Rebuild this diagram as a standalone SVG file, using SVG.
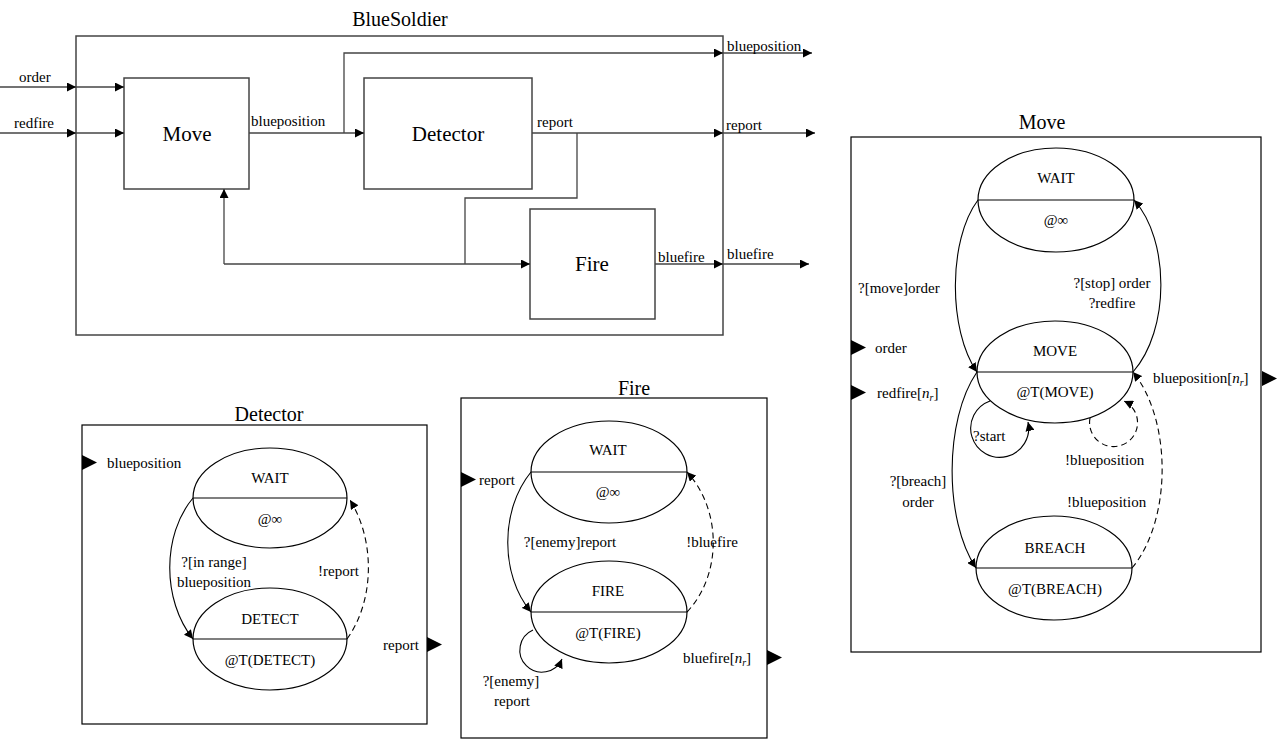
<svg xmlns="http://www.w3.org/2000/svg" width="1279" height="741" viewBox="0 0 1279 741" font-family="'Liberation Serif', 'DejaVu Serif', serif">
<style>
text{font-family:'Liberation Serif','DejaVu Serif',serif;fill:#000;}
.t{font-size:15px;}
.c{text-anchor:middle;}
.big{font-size:21px;}
.ttl{font-size:20px;text-anchor:middle;}
.blk{fill:#fff;stroke:#444;stroke-width:1.5;}
.wire{fill:none;stroke:#444;stroke-width:1.3;}
.st{fill:#fff;stroke:#000;stroke-width:1.2;}
.frame{fill:#fff;stroke:#000;stroke-width:1.2;}
.tr{fill:none;stroke:#000;stroke-width:1.1;}
.dash{stroke-dasharray:6,4;}
.port{fill:#000;}
.sub{font-size:10px;font-style:italic;}
.it{font-style:italic;}
</style>
<defs>
<marker id="a" viewBox="0 0 10 10" refX="10" refY="5" markerWidth="9" markerHeight="9" markerUnits="userSpaceOnUse" orient="auto">
<path d="M0,0 L10,5 L0,10 z" fill="#000"/>
</marker>
</defs>
<rect width="1279" height="741" fill="#fff"/>

<!-- BlueSoldier coupled block -->
<g id="bluesoldier">
<rect class="blk" x="76" y="36" width="647" height="299"/>
<text class="ttl" x="400" y="26">BlueSoldier</text>
</g>
<g id="blk-move"><rect class="blk" x="124" y="78" width="125" height="111"/><text class="big c" x="187" y="141">Move</text></g>
<g id="blk-detector"><rect class="blk" x="364" y="78" width="168" height="111"/><text class="big c" x="448" y="141">Detector</text></g>
<g id="blk-fire"><rect class="blk" x="530" y="209" width="125" height="110"/><text class="big c" x="592" y="271">Fire</text></g>

<g id="connectors-top">
<path class="wire" d="M0,87 H76" marker-end="url(#a)"/>
<path class="wire" d="M76,87 H124" marker-end="url(#a)"/>
<path class="wire" d="M0,133 H76" marker-end="url(#a)"/>
<path class="wire" d="M76,133 H124" marker-end="url(#a)"/>
<path class="wire" d="M249,133 H364" marker-end="url(#a)"/>
<path class="wire" d="M344,133 V53 H723" marker-end="url(#a)"/>
<path class="wire" d="M723,53 H812" marker-end="url(#a)"/>
<path class="wire" d="M532,133 H723" marker-end="url(#a)"/>
<path class="wire" d="M723,133 H815" marker-end="url(#a)"/>
<path class="wire" d="M577,133 V198 H465 V264"/>
<path class="wire" d="M224,264 H530" marker-end="url(#a)"/>
<path class="wire" d="M224,264 V189" marker-end="url(#a)"/>
<path class="wire" d="M655,264 H723" marker-end="url(#a)"/>
<path class="wire" d="M723,264 H809" marker-end="url(#a)"/>
<text class="t" x="19" y="82">order</text>
<text class="t" x="14" y="128">redfire</text>
<text class="t" x="251" y="126">blueposition</text>
<text class="t" x="727" y="51">blueposition</text>
<text class="t" x="537" y="127">report</text>
<text class="t" x="726" y="130">report</text>
<text class="t" x="658" y="262">bluefire</text>
<text class="t" x="727" y="259">bluefire</text>
</g>

<!-- Move atomic model -->
<g id="move-model">
<rect class="frame" x="851" y="137" width="410" height="515"/>
<text class="ttl" x="1042" y="129">Move</text>
<path class="port" d="M851,340 L866,347.5 L851,355 z"/>
<text class="t" x="875" y="353">order</text>
<path class="port" d="M851,385 L866,392.5 L851,400 z"/>
<text class="t" x="877" y="398">redfire[<tspan class="it">n</tspan><tspan class="sub" dy="3">r</tspan><tspan dy="-3">]</tspan></text>
<text class="t" x="1153" y="383">blueposition[<tspan class="it">n</tspan><tspan class="sub" dy="3">r</tspan><tspan dy="-3">]</tspan></text>
<path class="port" d="M1262,371 L1277,378.5 L1262,386 z"/>
</g>
<g id="move-wait">
<ellipse class="st" cx="1056" cy="200" rx="78" ry="52"/>
<line class="st" x1="978" y1="200" x2="1134" y2="200"/>
<text class="t c" x="1056" y="183">WAIT</text>
<text class="t c" x="1056" y="225">@∞</text>
</g>
<g id="move-move">
<ellipse class="st" cx="1055" cy="372" rx="78" ry="51"/>
<line class="st" x1="977" y1="372" x2="1133" y2="372"/>
<text class="t c" x="1055" y="356">MOVE</text>
<text class="t c" x="1055" y="397">@T(MOVE)</text>
</g>
<g id="move-breach">
<ellipse class="st" cx="1054" cy="568" rx="78" ry="52"/>
<line class="st" x1="976" y1="568" x2="1132" y2="568"/>
<text class="t c" x="1055" y="553">BREACH</text>
<text class="t c" x="1055" y="594">@T(BREACH)</text>
</g>
<g id="move-connectors">
<path class="tr" d="M978,200 C948,240 948,330 977,372" marker-end="url(#a)"/>
<path class="tr" d="M1133,372 C1170,330 1170,240 1134,200" marker-end="url(#a)"/>
<path class="tr" d="M977,372 C944,420 944,520 976,568" marker-end="url(#a)"/>
<path class="tr dash" d="M1132,568 C1172,520 1172,420 1133,372" marker-end="url(#a)"/>
<path class="tr" d="M990,401 A29,29 0 1 0 1028,422" marker-end="url(#a)"/>
<path class="tr dash" d="M1090,418 A24,24 0 1 0 1124,401" marker-end="url(#a)"/>
<text class="t" x="858" y="293">?[move]order</text>
<text class="t c" x="1112" y="288">?[stop] order</text>
<text class="t c" x="1112" y="308">?redfire</text>
<text class="t c" x="918" y="486">?[breach]</text>
<text class="t c" x="918" y="507">order</text>
<text class="t" x="973" y="441">?start</text>
<text class="t" x="1065" y="465">!blueposition</text>
<text class="t" x="1067" y="507">!blueposition</text>
</g>

<!-- Detector atomic model -->
<g id="detector-model">
<rect class="frame" x="82" y="425" width="345" height="299"/>
<text class="ttl" x="269" y="421">Detector</text>
<path class="port" d="M82,455 L97,462.5 L82,470 z"/>
<text class="t" x="107" y="468">blueposition</text>
<text class="t" x="383" y="650">report</text>
<path class="port" d="M427,637 L442,644.5 L427,652 z"/>
</g>
<g id="detector-wait">
<ellipse class="st" cx="270" cy="498" rx="77" ry="50"/>
<line class="st" x1="193" y1="498" x2="347" y2="498"/>
<text class="t c" x="270" y="483">WAIT</text>
<text class="t c" x="270" y="524">@∞</text>
</g>
<g id="detector-detect">
<ellipse class="st" cx="270" cy="639" rx="77" ry="51"/>
<line class="st" x1="193" y1="639" x2="347" y2="639"/>
<text class="t c" x="270" y="624">DETECT</text>
<text class="t c" x="270" y="665">@T(DETECT)</text>
</g>
<g id="detector-connectors">
<path class="tr" d="M193,498 C162,535 162,600 193,639" marker-end="url(#a)"/>
<path class="tr dash" d="M347,639 C375,600 375,540 350,500" marker-end="url(#a)"/>
<text class="t c" x="214" y="567">?[in range]</text>
<text class="t c" x="214" y="587">blueposition</text>
<text class="t" x="318" y="576">!report</text>
</g>

<!-- Fire atomic model -->
<g id="fire-model">
<rect class="frame" x="461" y="398" width="306" height="340"/>
<text class="ttl" x="634" y="395">Fire</text>
<path class="port" d="M461,472 L476,479.5 L461,487 z"/>
<text class="t" x="479" y="485">report</text>
<text class="t" x="683" y="663">bluefire[<tspan class="it">n</tspan><tspan class="sub" dy="3">r</tspan><tspan dy="-3">]</tspan></text>
<path class="port" d="M767,650 L782,657.5 L767,665 z"/>
</g>
<g id="fire-wait">
<ellipse class="st" cx="609" cy="472" rx="78" ry="51"/>
<line class="st" x1="531" y1="472" x2="687" y2="472"/>
<text class="t c" x="608" y="455">WAIT</text>
<text class="t c" x="608" y="497">@∞</text>
</g>
<g id="fire-fire">
<ellipse class="st" cx="609" cy="612" rx="78" ry="51"/>
<line class="st" x1="531" y1="612" x2="687" y2="612"/>
<text class="t c" x="608" y="596">FIRE</text>
<text class="t c" x="608" y="638">@T(FIRE)</text>
</g>
<g id="fire-connectors">
<path class="tr" d="M531,472 C500,510 500,575 531,612" marker-end="url(#a)"/>
<path class="tr dash" d="M687,612 C722,575 722,510 687,472" marker-end="url(#a)"/>
<path class="tr" d="M533,630 A22,22 0 1 0 562,659" marker-end="url(#a)"/>
<text class="t c" x="570" y="547">?[enemy]report</text>
<text class="t c" x="712" y="547">!bluefire</text>
<text class="t c" x="511" y="686">?[enemy]</text>
<text class="t c" x="512" y="706">report</text>
</g>
</svg>
